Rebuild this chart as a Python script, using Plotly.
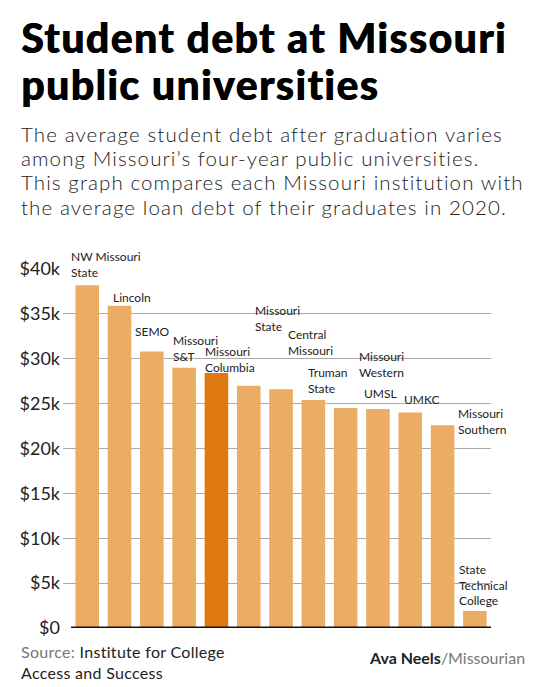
import plotly.graph_objects as go

# data
schools = [
    "NW Missouri State", "Lincoln", "SEMO", "Missouri S&T", "Missouri Columbia",
    "Missouri State", "Central Missouri", "Truman State", "Missouri Western",
    "UMSL", "UMKC", "Missouri Southern", "State Technical College",
]
debt = [38200, 35900, 30800, 29000, 28400, 27000, 26600, 25400, 24500, 24400, 24000, 22600, 1900]
label_text = [
    "NW Missouri<br>State", "Lincoln", "SEMO", "Missouri<br>S&T", "Missouri<br>Columbia",
    "Missouri<br>State", "Central<br>Missouri", "Truman<br>State", "Missouri<br>Western",
    "UMSL", "UMKC", "Missouri<br>Southern", "State<br>Technical<br>College",
]
highlight = "Missouri Columbia"
tick_vals = [0, 5000, 10000, 15000, 20000, 25000, 30000, 35000, 40000]
tick_text = ["$0", "$5k", "$10k", "$15k", "$20k", "$25k", "$30k", "$35k", "$40k"]

# label placement (pixels relative to bar centre / bar top)
label_dx = [-18, -9, -19, -13, -13, 4, 5, -7, 11, -16, -8, 13, -18]
label_dy = [38, 18, 30, 37, 31, 85, 64, 37, 61, 25, 23, 21, 51]

FONT = "Lato, 'Noto Sans', sans-serif"
LIGHT = "#ebad63"
DARK = "#e07a10"

# page has an 8px body margin, so work in page pixels and shift back
OFF = 8
W, H = 545 - OFF, 687 - OFF
L, R, T, B = 63, 491, 269, 628  # plot area in page pixels


def px(x):
    return (x - L) / (R - L)


def py(y):
    return (B - y) / (B - T)


def spaced(text, ls):
    return "<span style='letter-spacing:%spx'>%s</span>" % (ls, text)


fig = go.Figure()
fig.add_trace(
    go.Bar(
        x=schools,
        y=debt,
        marker_color=[DARK if s == highlight else LIGHT for s in schools],
        marker_line_width=0,
        hoverinfo="x+y",
    )
)

annotations = []
for s, v, t, dx, dy in zip(schools, debt, label_text, label_dx, label_dy):
    annotations.append(dict(
        x=s, y=v, xref="x", yref="y", text=t, showarrow=False,
        xanchor="left", yanchor="top", align="left",
        xshift=dx, yshift=dy,
        font=dict(family=FONT, size=12, color="#222"),
    ))

# title
for i, line in enumerate(["Student debt at Missouri", "public universities"]):
    annotations.append(dict(
        x=px(19), y=py(37 + i * 47.5), xref="paper", yref="paper",
        text=spaced(line, 1.4),
        showarrow=False, xanchor="left", yanchor="middle",
        font=dict(family=FONT, size=41, color="#000", weight=900,
                  shadow="0.7px 0 0 #000"),
    ))

# subtitle
sub = [
    "The average student debt after graduation varies",
    "among Missouri’s four-year public universities.",
    "This graph compares each Missouri institution with",
    "the average loan debt of their graduates in 2020.",
]
for i, line in enumerate(sub):
    annotations.append(dict(
        x=px(19), y=py(134 + i * 24.2), xref="paper", yref="paper",
        text=spaced(line, 1.1),
        showarrow=False, xanchor="left", yanchor="middle",
        font=dict(family=FONT, size=20.5, color="#222", weight=300),
    ))

# footer
annotations.append(dict(
    x=px(20), y=py(641), xref="paper", yref="paper",
    text=spaced("<span style='color:#777'>Source: </span>Institute for College"
                "<br>Access and Success", 0.3),
    borderpad=0, align="left",
    showarrow=False, xanchor="left", yanchor="top",
    font=dict(family=FONT, size=16, color="#222"),
))
annotations.append(dict(
    x=px(527), y=py(657), xref="paper", yref="paper",
    text="<b>Ava Neels</b><span style='color:#777'>/Missourian</span>",
    showarrow=False, xanchor="right", yanchor="middle",
    font=dict(family=FONT, size=16, color="#222"),
))

fig.update_layout(
    width=W,
    height=H,
    margin=dict(l=L - OFF, r=W - (R - OFF), t=T - OFF, b=H - (B - OFF), pad=0),
    paper_bgcolor="white",
    plot_bgcolor="white",
    showlegend=False,
    bargap=0.27,
    font=dict(family=FONT),
    annotations=annotations,
    shapes=[dict(
        type="line", xref="x", yref="y", x0=-0.5, x1=12.5, y0=0, y1=0,
        line=dict(color="#111", width=3),
    )],
    xaxis=dict(
        range=[-0.75, 12.5], showticklabels=False, showgrid=False,
        zeroline=False, showline=False, ticks="",
    ),
    yaxis=dict(
        range=[0, 40000], tickvals=tick_vals, ticktext=tick_text,
        showgrid=True, gridcolor="#aaa", gridwidth=1, zeroline=False,
        showline=False, ticks="", ticklabelstandoff=2,
        tickfont=dict(family=FONT, size=18, color="#222"),
    ),
)

fig.write_html("out.html")
